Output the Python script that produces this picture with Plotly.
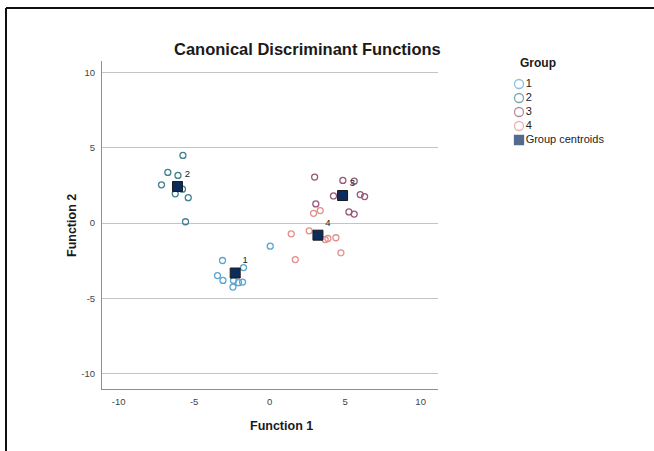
import plotly.graph_objects as go

# ---------------- data ----------------
g1_x = [-3.12, -3.45, -3.09, -2.43, -2.06, -1.79, -2.39, -1.73, 0.04]
g1_y = [-2.48, -3.48, -3.80, -4.24, -3.95, -3.91, -3.80, -2.95, -1.53]
g2_x = [-5.74, -6.74, -6.07, -7.16, -6.25, -5.77, -5.39, -5.57]
g2_y = [4.49, 3.36, 3.16, 2.54, 1.94, 2.25, 1.69, 0.09]
g3_x = [2.98, 4.85, 5.60, 4.23, 6.00, 6.29, 3.06, 5.25, 5.60]
g3_y = [3.05, 2.83, 2.78, 1.80, 1.89, 1.76, 1.27, 0.74, 0.60]
g4_x = [2.91, 3.35, 1.43, 2.62, 3.68, 3.86, 4.39, 4.72, 1.70]
g4_y = [0.65, 0.83, -0.71, -0.51, -1.09, -1.02, -0.97, -1.97, -2.42]
centroid_x = [-2.28, -6.10, 4.83, 3.20]
centroid_y = [-3.31, 2.43, 1.83, -0.80]
group_labels = ["1", "2", "3", "4"]
legend_labels = ["1", "2", "3", "4", "Group centroids"]
tick_vals = [-10, -5, 0, 5, 10]

colors = ["#5aa6d2", "#43808f", "#9a5878", "#e38f8e"]
navy = "#0b2d5e"

W, H = 654, 451
# plot area in pixels
PL, PR, PT, PB = 102, 438, 61, 389
FONT = "Liberation Sans, Arial, sans-serif"

fig = go.Figure()

groups = [(g1_x, g1_y), (g2_x, g2_y), (g3_x, g3_y), (g4_x, g4_y)]
for (gx, gy), c, lab in zip(groups, colors, group_labels):
    fig.add_trace(go.Scatter(
        x=gx, y=gy, mode="markers", name=lab, showlegend=False,
        marker=dict(symbol="circle-open", size=6, color=c, line=dict(width=1.3, color=c)),
        cliponaxis=False))

fig.add_trace(go.Scatter(
    x=centroid_x, y=centroid_y, mode="markers+text", text=group_labels,
    textposition="top right", textfont=dict(family=FONT, size=9.5, color="#222"),
    marker=dict(symbol="square", size=10, color=navy, line=dict(width=1, color="#1a1a1a")),
    showlegend=False, cliponaxis=False))

# ---------------- custom legend (pixel-space overlay axis) ----------------
leg_x = 519
leg_y = [84, 98, 112, 126, 140]
leg_sym = ["circle-open"] * 4 + ["square"]
leg_col = colors + [navy]
leg_size = [9, 9, 9, 9, 9]
fig.add_trace(go.Scatter(
    x=[leg_x] * 5, y=leg_y, mode="markers+text", text=legend_labels,
    textposition="middle right", textfont=dict(family=FONT, size=11, color="#222"),
    marker=dict(symbol=leg_sym, size=leg_size, color=leg_col,
                line=dict(width=1.3, color=leg_col)),
    xaxis="x2", yaxis="y2", showlegend=False, cliponaxis=False, hoverinfo="skip"))

fig.update_layout(
    width=W, height=H,
    margin=dict(l=0, r=0, t=0, b=0),
    paper_bgcolor="white", plot_bgcolor="rgba(0,0,0,0)",
    font=dict(family=FONT, color="#333"),
    xaxis=dict(domain=[PL / W, PR / W], range=[-11.1, 11.15],
               tickvals=tick_vals, ticktext=[str(v) for v in tick_vals],
               showgrid=False, zeroline=False, showline=True, linecolor="#8f8f8f", linewidth=1,
               ticks="outside", ticklen=4, tickcolor="rgba(0,0,0,0)",
               tickfont=dict(family=FONT, size=9.5, color="#444"), anchor="y"),
    yaxis=dict(domain=[(H - PB) / H, (H - PT) / H], range=[-11.0, 10.75],
               tickvals=tick_vals, ticktext=[str(v) for v in tick_vals],
               showgrid=True, gridcolor="#c4c4c4", gridwidth=1, zeroline=False,
               showline=True, linecolor="#8f8f8f", linewidth=1,
               ticks="outside", ticklen=4, tickcolor="rgba(0,0,0,0)",
               tickfont=dict(family=FONT, size=9.5, color="#444"), anchor="x"),
    xaxis2=dict(domain=[0, 1], range=[0, W], visible=False, anchor="y2", fixedrange=True),
    yaxis2=dict(domain=[0, 1], range=[H, 0], visible=False, anchor="x2", fixedrange=True),
    showlegend=False,
)

ann = [
    dict(text="<b>Canonical Discriminant Functions</b>", x=307 / W, y=1 - 49 / H,
         font=dict(family=FONT, size=16.5, color="#1a1a1a")),
    dict(text="<b>Function 1</b>", x=281 / W, y=1 - 426 / H,
         font=dict(family=FONT, size=12.5, color="#1a1a1a")),
    dict(text="<b>Function 2</b>", x=72 / W, y=1 - 226 / H, textangle=-90,
         font=dict(family=FONT, size=12.5, color="#1a1a1a")),
    dict(text="<b>Group</b>", x=538 / W, y=1 - 63 / H,
         font=dict(family=FONT, size=12, color="#1a1a1a")),
]
for a in ann:
    a.update(xref="paper", yref="paper", showarrow=False, xanchor="center", yanchor="middle")
fig.update_layout(annotations=ann)

# frame lines (top and left)
fig.add_shape(type="line", xref="paper", yref="paper", x0=6 / W, x1=1, y0=1 - 8 / H, y1=1 - 8 / H,
              line=dict(color="#111", width=2))
fig.add_shape(type="line", xref="paper", yref="paper", x0=6 / W, x1=6 / W, y0=0, y1=1 - 8 / H,
              line=dict(color="#111", width=2))

fig.write_html(
    "out.html",
    config={"displayModeBar": False},
    post_script="document.body.style.margin='0';document.body.style.overflow='hidden';"
)
